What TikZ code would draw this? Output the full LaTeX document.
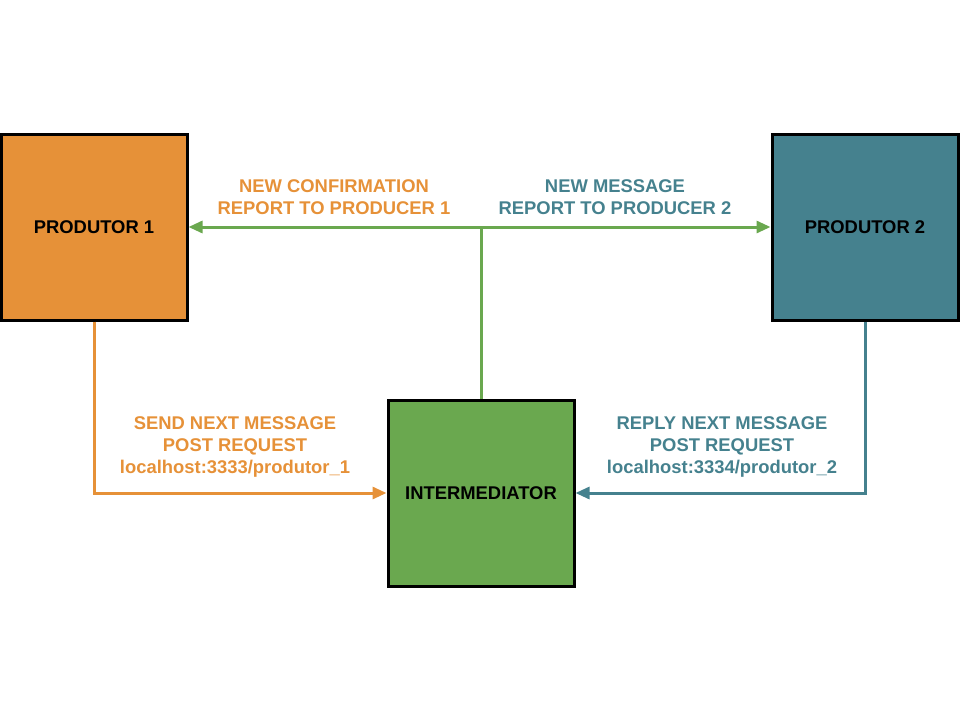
\documentclass[tikz,border=0pt]{standalone}
\usepackage{fontspec}
\setmainfont{Liberation Sans}
\usetikzlibrary{arrows.meta}
\definecolor{corange}{HTML}{E69138}
\definecolor{cteal}{HTML}{45818E}
\definecolor{cgreen}{HTML}{6AA84F}
\tikzset{
  box/.style={draw=black, line width=3pt, minimum width=186pt, minimum height=186pt, inner sep=0pt, font=\bfseries\fontsize{18.4}{22}\selectfont, text=black},
  conn/.style={line width=3pt, -{Triangle[length=14pt,width=12pt]}},
  lbl/.style={font=\bfseries\fontsize{18.4}{22}\selectfont, align=center, inner sep=0pt}
}
\begin{document}
\begin{tikzpicture}[x=1pt,y=-1pt]
\useasboundingbox (0,0) rectangle (960,720);
\node[box, fill=corange] (p1) at (94,227) {PRODUTOR 1};
\node[box, fill=cteal] (p2) at (865,227) {PRODUTOR 2};
\node[box, fill=cgreen] (im) at (481,493) {INTERMEDIATOR};
\coordinate (j) at (481,227);
\draw[conn, cgreen, -] (im.north) -- (j);
\draw[conn, cgreen] (j) -- (p1.east);
\draw[conn, cgreen] (j) -- (p2.west);
\draw[conn, corange] (p1.south) |- (im.west);
\draw[conn, cteal] (p2.south) |- (im.east);
\node[lbl, text=corange] (l1) at (334,197) {NEW CONFIRMATION\\REPORT TO PRODUCER 1};
\node[lbl, text=cteal] (l2) at (615,197) {NEW MESSAGE\\REPORT TO PRODUCER 2};
\node[lbl, text=corange] (l3) at (235,447) {SEND NEXT MESSAGE\\POST REQUEST\\localhost:3333/produtor\_1};
\node[lbl, text=cteal] (l4) at (722,447) {REPLY NEXT MESSAGE\\POST REQUEST\\localhost:3334/produtor\_2};
\end{tikzpicture}
\end{document}
